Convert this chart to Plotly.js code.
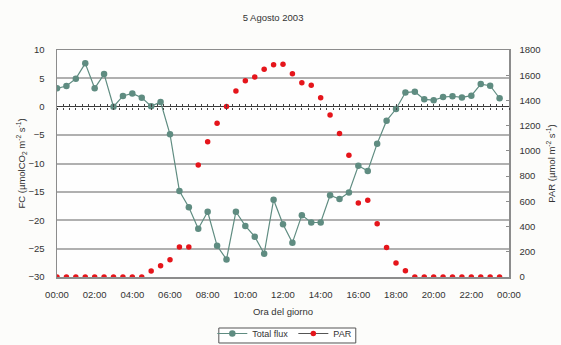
<!DOCTYPE html>
<html>
<head>
<meta charset="utf-8">
<script src="https://cdn.plot.ly/plotly-3.0.1.min.js"></script>
<style>
html,body{margin:0;padding:0;background:#fcfcfa;}
#chart{width:561px;height:345px;}
</style>
</head>
<body>
<div id="chart"></div>
<script>
const times = ["00:00","00:30","01:00","01:30","02:00","02:30","03:00","03:30","04:00","04:30",
  "05:00","05:30","06:00","06:30","07:00","07:30","08:00","08:30","09:00","09:30",
  "10:00","10:30","11:00","11:30","12:00","12:30","13:00","13:30","14:00","14:30",
  "15:00","15:30","16:00","16:30","17:00","17:30","18:00","18:30","19:00","19:30",
  "20:00","20:30","21:00","21:30","22:00","22:30","23:00","23:30"];
const totalFlux = [3.25,3.65,4.95,7.65,3.25,5.75,0.0,1.9,2.35,1.6,
  0.1,0.85,-4.85,-14.85,-17.7,-21.5,-18.5,-24.5,-26.9,-18.5,
  -21.0,-22.9,-25.9,-16.4,-20.7,-23.95,-19.1,-20.4,-20.4,-15.6,
  -16.25,-15.1,-10.4,-11.3,-6.5,-2.45,-0.4,2.5,2.65,1.3,
  1.15,1.7,1.85,1.65,1.95,4.0,3.7,1.5];
const par = [0,0,0,0,0,0,0,0,0,0,
  48,90,137,238,238,888,1072,1219,1351,1475,
  1557,1586,1647,1684,1687,1612,1541,1520,1422,1285,
  1137,965,587,608,423,233,111,50,0,0,
  0,0,0,0,0,0,0,0];
const day = "2003-08-05 ";
const xRange = ["2003-08-05 00:00", "2003-08-06 00:00"];
const xs = times.map(t => day + t);

const font = "Liberation Sans, Arial, sans-serif";
const fluxColor = "#5f8c81";
const parColor = "#e5151b";

const traces = [
  {x: xs, y: totalFlux, name: "Total flux", type: "scatter", mode: "lines+markers",
   line: {color: fluxColor, width: 1.2}, marker: {color: fluxColor, size: 6.5}, xaxis: "x", yaxis: "y"},
  {x: xs, y: par, name: "PAR", type: "scatter", mode: "markers", showlegend: false, legendgroup: "par",
   marker: {color: parColor, size: 5.5}, xaxis: "x", yaxis: "y2"},
  {x: [null], y: [null], name: "PAR", type: "scatter", mode: "lines+markers", legendgroup: "par",
   line: {color: "#555", width: 1.2}, marker: {color: parColor, size: 5.5}, xaxis: "x", yaxis: "y2", hoverinfo: "skip"},
  {x: [xs[0]], y: [null], showlegend: false, hoverinfo: "skip", xaxis: "x2", yaxis: "y", mode: "markers"},
  {x: [xs[0]], y: [null], showlegend: false, hoverinfo: "skip", xaxis: "x3", yaxis: "y", mode: "markers"}
];

const tickAxis = (ticks) => ({
  type: "date", range: xRange, overlaying: "x", anchor: "free", position: 0.75,
  showticklabels: false, showgrid: false, showline: false, zeroline: false,
  ticks: ticks, ticklen: 2.5, tickwidth: 1, tickcolor: "#444",
  dtick: 20 * 60 * 1000, tick0: "2003-08-05 00:00"
});

const layout = {
  width: 561, height: 345,
  margin: {l: 57, r: 52, t: 50, b: 68, autoexpand: false},
  paper_bgcolor: "#fcfcfa", plot_bgcolor: "#fefefe",
  font: {family: font, size: 9.5, color: "#333"},
  title: {text: "5 Agosto 2003", x: 0.478, xref: "paper", y: 0.948, yanchor: "middle",
          font: {family: font, size: 9.5, color: "#333"}},
  showlegend: true,
  legend: {orientation: "h", x: 0.504, xanchor: "center", y: -0.185, yanchor: "top",
           bgcolor: "rgba(0,0,0,0)", borderwidth: 0,
           font: {family: font, size: 9, color: "#333"}, itemwidth: 30, tracegroupgap: 0},
  shapes: [{type: "rect", xref: "paper", yref: "paper", x0: 0.358, x1: 0.661, y0: -0.2247, y1: -0.2907,
            line: {color: "#555", width: 1}, fillcolor: "#ffffff", layer: "below"}],
  xaxis: {
    type: "date", range: xRange, dtick: 2 * 3600 * 1000, tick0: "2003-08-05 00:00",
    tickformat: "%H:%M", showgrid: false, zeroline: false,
    showline: true, mirror: true, linecolor: "#8c8c8c", linewidth: 1.5,
    ticks: "outside", ticklen: 8, tickcolor: "rgba(0,0,0,0)",
    tickfont: {family: font, size: 9.5, color: "#333"},
    title: {text: "Ora del giorno", standoff: 9, font: {family: font, size: 9.5, color: "#333"}}
  },
  xaxis2: tickAxis("outside"),
  xaxis3: tickAxis("inside"),
  yaxis: {
    range: [-30, 10], dtick: 5, showgrid: true, gridcolor: "#b0b0b0", gridwidth: 2,
    zeroline: true, zerolinecolor: "#3a3a3a", zerolinewidth: 1,
    showline: true, linecolor: "#8c8c8c", linewidth: 1.5,
    ticks: "outside", ticklen: 9, tickcolor: "rgba(0,0,0,0)",
    tickfont: {family: font, size: 9.5, color: "#333"},
    title: {text: "FC (µmolCO<sub>2</sub> m<sup>-2</sup> s<sup>-1</sup>)", standoff: 1,
            font: {family: font, size: 9.5, color: "#333"}}
  },
  yaxis2: {
    range: [0, 1800], dtick: 200, overlaying: "y", side: "right", showgrid: false, zeroline: false,
    showline: true, linecolor: "#8c8c8c", linewidth: 1.5,
    ticks: "inside", ticklen: 3, tickcolor: "#8c8c8c",
    ticklabelstandoff: 7,
    tickfont: {family: font, size: 9.5, color: "#333"},
    title: {text: "PAR (µmol m<sup>-2</sup> s<sup>-1</sup>)", standoff: 9,
            font: {family: font, size: 9.5, color: "#333"}}
  }
};

Plotly.newPlot("chart", traces, layout, {displayModeBar: false, staticPlot: true});
</script>
</body>
</html>
